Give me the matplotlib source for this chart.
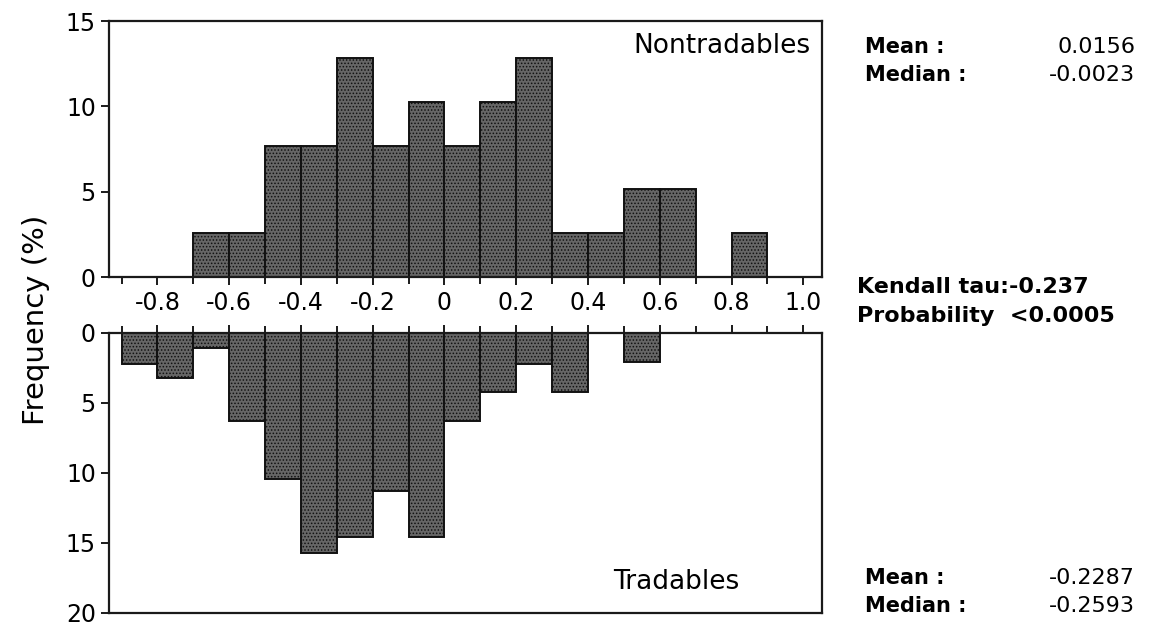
import numpy as np
import matplotlib
matplotlib.use('Agg')
import matplotlib.pyplot as plt

plt.rcParams['font.family'] = ['DejaVu Sans']
plt.rcParams['hatch.linewidth'] = 0.7

# bin left edges (width 0.1) and frequency (%) per bin
bin_width = 0.1
nontradables_edges = [-0.7, -0.6, -0.5, -0.4, -0.3, -0.2, -0.1, 0.0, 0.1, 0.2,
                      0.3, 0.4, 0.5, 0.6, 0.7, 0.8]
nontradables_freq = [2.56, 2.56, 7.69, 7.69, 12.82, 7.69, 10.26, 7.69, 10.26, 12.82,
                     2.56, 2.56, 5.13, 5.13, 0.0, 2.56]

tradables_edges = [-0.9, -0.8, -0.7, -0.6, -0.5, -0.4, -0.3, -0.2, -0.1, 0.0,
                   0.1, 0.2, 0.3, 0.4, 0.5]
tradables_freq = [2.2, 3.2, 1.1, 6.3, 10.4, 15.7, 14.6, 11.3, 14.6, 6.3,
                  4.2, 2.2, 4.2, 0.0, 2.1]

x_ticks = [-0.8, -0.6, -0.4, -0.2, 0.0, 0.2, 0.4, 0.6, 0.8, 1.0]
x_tick_labels = ['-0.8', '-0.6', '-0.4', '-0.2', '0', '0.2', '0.4', '0.6', '0.8', '1.0']
x_minor = [-0.9, -0.7, -0.5, -0.3, -0.1, 0.1, 0.3, 0.5, 0.7, 0.9]

top_stats = [('Mean :', '0.0156'), ('Median :', '-0.0023')]
test_stats = ['Kendall tau:-0.237', 'Probability  <0.0005']
bottom_stats = [('Mean :', '-0.2287'), ('Median :', '-0.2593')]

bar_style = dict(width=bin_width, align='edge', facecolor='#666666',
                 edgecolor='#111111', linewidth=1.4, hatch='.....')

fig = plt.figure(figsize=(11.5, 6.28), dpi=100)
ax_top = fig.add_axes([0.0948, 0.5589, 0.6196, 0.4076])
ax_bot = fig.add_axes([0.0948, 0.0239, 0.6196, 0.4459])

for ax in (ax_top, ax_bot):
    ax.set_xlim(-0.935, 1.051)
    for s in ax.spines.values():
        s.set_linewidth(1.6)
        s.set_color('#1a1a1a')
    ax.set_xticks(x_ticks)
    ax.set_xticks(x_minor, minor=True)
    ax.tick_params(axis='both', which='major', labelsize=17, width=1.4, length=6,
                   color='#1a1a1a')
    ax.tick_params(axis='x', which='minor', width=1.4, length=5, color='#1a1a1a')

# nontradables (upward)
ax_top.bar(nontradables_edges, nontradables_freq, **bar_style)
ax_top.set_ylim(0, 15)
ax_top.set_yticks([0, 5, 10, 15])
ax_top.set_xticklabels(x_tick_labels)
ax_top.tick_params(axis='x', which='major', pad=4)
ax_top.text(0.985, 0.955, 'Nontradables', transform=ax_top.transAxes,
            ha='right', va='top', fontsize=19)

# tradables (downward)
ax_bot.bar(tradables_edges, tradables_freq, **bar_style)
ax_bot.set_ylim(20, 0)
ax_bot.set_yticks([0, 5, 10, 15, 20])
ax_bot.xaxis.tick_top()
ax_bot.tick_params(axis='x', which='both', labeltop=False, labelbottom=False)
ax_bot.text(0.885, 0.065, 'Tradables', transform=ax_bot.transAxes,
            ha='right', va='bottom', fontsize=19)

fig.text(0.031, 0.49, 'Frequency (%)', rotation=90, ha='center', va='center',
         fontsize=21)


def stat_block(rows, y_first, label_x=0.752, value_x=0.987, step=0.045):
    for i, (lab, val) in enumerate(rows):
        y = y_first - i * step
        fig.text(label_x, y, lab, ha='left', va='center', fontsize=15,
                 fontweight='bold')
        fig.text(value_x, y, val, ha='right', va='center', fontsize=16)


stat_block(top_stats, 1 - 47 / 628)
stat_block(bottom_stats, 1 - 578 / 628)

for i, line in enumerate(test_stats):
    y = 1 - 287 / 628 - i * 0.046
    fig.text(0.745, y, line, ha='left', va='center', fontsize=16,
             fontweight='bold')

fig.savefig('out.png', dpi=100, facecolor='white')
